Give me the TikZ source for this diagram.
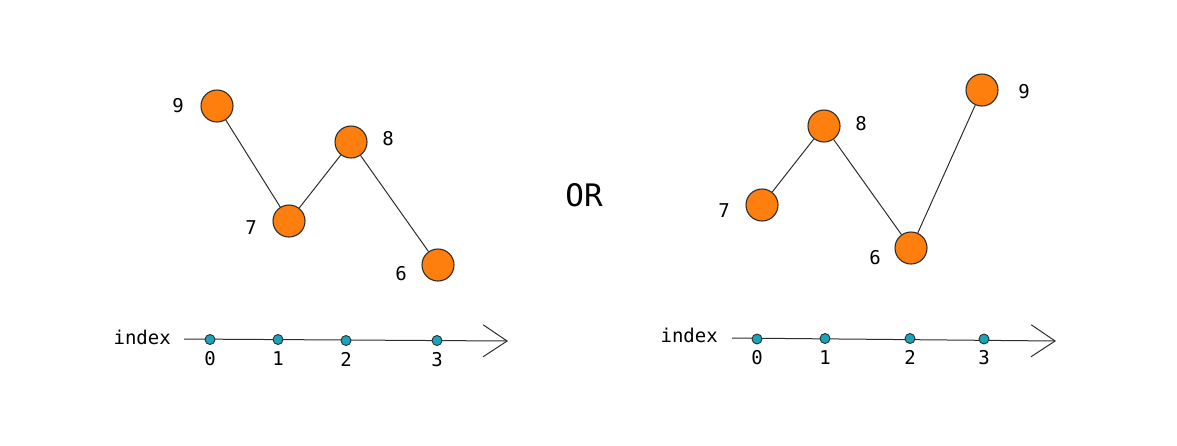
\documentclass[tikz,border=0pt]{standalone}
\usepackage{fontspec}
\setmonofont{DejaVu Sans Mono}
\usetikzlibrary{arrows.meta,positioning}
\definecolor{peakorange}{RGB}{255,127,14}
\definecolor{dotteal}{RGB}{25,165,185}
\definecolor{edgegray}{RGB}{45,45,45}

\begin{document}
\begin{tikzpicture}[
    x=1pt, y=-1pt,
    val/.style = {circle, draw=edgegray, line width=1.1pt, fill=peakorange, minimum size=32pt, inner sep=0pt},
    dot/.style = {circle, draw=edgegray, line width=0.9pt, fill=dotteal, minimum size=10pt, inner sep=0pt},
    lbl/.style = {font=\ttfamily\fontsize{19}{21}\selectfont, inner sep=1pt},
    edge/.style = {draw=edgegray, line width=1pt},
    axis/.style = {draw=edgegray, line width=1pt, -{Straight Barb[length=24pt, width=32pt]}}
]
    \useasboundingbox (0,0) rectangle (1177,445);

    % Left: values
    \node [val] (l9) at (217,106) {};
    \node [val] (l7) at (289,221) {};
    \node [val] (l8) at (351,142) {};
    \node [val] (l6) at (438,265) {};
    \node [lbl] (t9) at (178,106) {9};
    \node [lbl] (t7) at (251,228) {7};
    \node [lbl] (t8) at (388,139) {8};
    \node [lbl] (t6) at (401,274) {6};

    \path [edge] (l9) -- (l7) -- (l8) -- (l6);

    % Left: index axis
    \coordinate (ls) at (184,339);
    \coordinate (le) at (508,341);
    \path [axis] (ls) -- (le);
    \node [lbl, anchor=east] (lidx) at (172,337) {index};
    \foreach \x/\y/\i in {210/339.5/0, 278/339.5/1, 346/340.5/2, 437/340.5/3} {
        \node [dot] (ld\i) at (\x,\y) {};
        \node [lbl, below=5pt of ld\i] (ln\i) {\i};
    }

    % OR
    \node [font=\ttfamily\fontsize{31}{34}\selectfont] (or) at (584,195) {OR};

    % Right: values
    \node [val] (r7) at (762,205) {};
    \node [val] (r8) at (824,126) {};
    \node [val] (r6) at (911,248) {};
    \node [val] (r9) at (982,90) {};
    \node [lbl] (s7) at (724,211) {7};
    \node [lbl] (s8) at (861,124) {8};
    \node [lbl] (s6) at (875,258) {6};
    \node [lbl] (s9) at (1024,92) {9};

    \path [edge] (r7) -- (r8) -- (r6) -- (r9);

    % Right: index axis
    \coordinate (rs) at (732,338);
    \coordinate (re) at (1056,341);
    \path [axis] (rs) -- (re);
    \node [lbl, anchor=east] (ridx) at (719,335) {index};
    \foreach \x/\y/\i in {757/339/0, 825/338.5/1, 910/338.5/2, 984/339/3} {
        \node [dot] (rd\i) at (\x,\y) {};
        \node [lbl, below=5pt of rd\i] (rn\i) {\i};
    }
\end{tikzpicture}
\end{document}
